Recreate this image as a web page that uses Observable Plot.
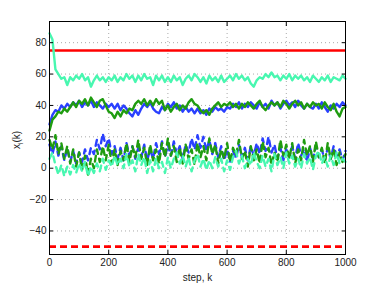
<!DOCTYPE html>
<html><head><meta charset="utf-8">
<script src="https://cdn.jsdelivr.net/npm/d3@7"></script>
<script src="https://cdn.jsdelivr.net/npm/@observablehq/plot@0.6"></script>
<style>body{margin:0;background:#fff}</style>
</head><body><div id="chart"></div>
<script>
const steps = d3.range(0, 1001, 10);
const xTicks = [0, 200, 400, 600, 800, 1000];
const yTicks = [-40, -20, 0, 20, 40, 60, 80];
const targets = [75, -50];

const aquaSolid = [86,82,63,60,57,58,53,58,56,59, 57,60,56,58,52,56,59,56,58,55, 58,56,59,55,58,56,60,57,59,55,
 59,56,60,57,58,53,59,56,59,55, 58,55,59,56,58,53,57,59,56,60, 58,55,58,54,59,56,58,55,59,55,
 57,59,56,60,57,59,56,58,54,52, 56,58,57,60,58,61,58,59,56,59, 57,60,56,59,57,59,56,58,55,59,
 57,55,58,56,59,55,58,57,56,59,57];
const blueSolid = [28,34,37,36,40,38,41,39,42,40, 43,39,42,40,43,39,42,40,38,41, 39,41,38,41,37,40,38,35,33,37,
 34,38,41,39,42,38,36,35,39,37, 41,39,42,38,40,36,39,36,38,35, 38,35,37,34,38,36,39,37,38,36,
 39,38,41,39,42,38,41,39,42,40, 38,42,39,41,38,43,40,42,38,41, 43,40,42,39,43,40,38,41,39,38,
 41,38,42,39,36,40,38,41,39,42,40];
const greenSolid = [24,31,33,36,35,38,36,39,42,39, 43,41,44,40,45,42,39,43,44,40, 36,35,32,36,33,37,35,38,37,41,
 43,41,44,40,43,40,44,41,43,37, 40,36,39,41,37,40,38,42,44,41, 40,37,35,37,34,38,40,42,39,41,
 40,42,39,41,38,41,39,42,40,38, 41,43,39,37,40,42,40,42,39,43, 41,38,41,43,40,42,38,41,39,42,
 40,41,38,42,39,37,41,36,33,38,39];
const blueDashed = [15,9,17,8,14,5,13,4,11,3, 10,4,12,5,13,9,18,12,22,14, 19,9,14,6,13,5,16,8,14,6,
 13,7,15,5,12,6,16,9,17,7, 15,8,17,9,14,6,15,10,19,12, 21,13,20,11,18,9,16,7,14,5,
 12,4,11,6,15,7,13,5,14,8, 16,9,19,11,20,10,15,6,13,5, 12,7,14,6,16,8,12,4,13,6,
 14,7,12,5,13,6,14,8,12,5,11];
const greenDashed = [18,12,21,9,16,6,14,3,12,1, 10,-1,8,-4,6,0,12,4,14,5, 15,3,12,2,11,5,16,4,14,7,
 18,6,13,2,15,5,12,3,16,7, 19,8,14,4,13,3,15,6,12,2, 16,7,14,5,19,9,15,3,12,6,
 16,4,13,8,18,6,11,1,14,5, 12,3,17,7,13,2,10,4,18,8, 15,6,16,3,12,5,18,8,14,4,
 17,7,13,3,16,6,12,2,10,4,9];
const aquaDashed = [6,10,2,-4,2,-5,1,-4,2,-3, 3,-2,4,-5,1,-3,3,-2,6,-1, 5,1,8,2,6,0,9,1,5,-2,
 9,2,7,-3,5,-2,6,0,4,-3, 7,0,6,10,3,8,1,7,-2,5, 9,1,6,-1,5,0,7,1,6,-2,
 5,-1,7,11,3,8,0,6,2,10, 4,0,8,1,6,-2,9,2,7,0, 10,3,8,1,6,0,9,3,7,-1,
 8,11,3,7,1,8,2,10,3,6,4];

const series = [
  {values: aquaSolid, color: "#48f7b0", dash: null},
  {values: blueSolid, color: "#2a40ff", dash: null},
  {values: greenSolid, color: "#1f9c10", dash: null},
  {values: blueDashed, color: "#2a40ff", dash: "6,5"},
  {values: greenDashed, color: "#1f9c10", dash: "6,5"},
  {values: aquaDashed, color: "#48f7b0", dash: "6,5"}
];

const toRows = vals => vals.map((v, i) => ({k: steps[i], v}));

const fontSize = 10;
const plot = Plot.plot({
  width: 382, height: 286,
  marginLeft: 49, marginRight: 37, marginTop: 21, marginBottom: 32,
  style: {fontFamily: "'Liberation Sans', Arial, sans-serif", fontSize: fontSize + "px", color: "#222", background: "#fff"},
  x: {domain: [0, 1000]},
  y: {domain: [-55, 93.5]},
  marks: [
    Plot.gridX(xTicks, {stroke: "#aaa", strokeOpacity: 1, strokeDasharray: "1,3"}),
    Plot.gridY(yTicks, {stroke: "#aaa", strokeOpacity: 1, strokeDasharray: "1,3"}),
    Plot.ruleY([targets[0]], {stroke: "#ff0000", strokeWidth: 2.6}),
    Plot.ruleY([targets[1]], {stroke: "#ff0000", strokeWidth: 2.6, strokeDasharray: "7,4"}),
    ...series.map(s => Plot.line(toRows(s.values), {x: "k", y: "v", stroke: s.color, strokeWidth: 2.4, strokeDasharray: s.dash, strokeLinejoin: "round"})),
    Plot.frame({stroke: "#000", strokeWidth: 1}),
    Plot.axisX(xTicks, {anchor: "bottom", tickSize: -4, tickPadding: 8, tickFormat: d => String(d), label: "step, k", labelAnchor: "center", labelArrow: "none", labelOffset: 26, stroke: "#000"}),
    Plot.axisX(xTicks, {anchor: "top", tickSize: -4, tickFormat: () => "", label: null, stroke: "#000"}),
    Plot.axisY(yTicks, {anchor: "left", tickSize: -4, tickPadding: 7, label: null, stroke: "#000"}),
    Plot.axisY(yTicks, {anchor: "right", tickSize: -4, tickFormat: () => "", label: null, stroke: "#000"})
  ]
});

const svg = d3.select(plot);
const t = svg.append("text")
  .attr("transform", "translate(20,140) rotate(-90)")
  .attr("text-anchor", "middle")
  .attr("fill", "#222")
  .style("font-size", fontSize + "px");
t.append("tspan").text("x");
t.append("tspan").attr("dy", 3).style("font-size", "7px").text("i");
t.append("tspan").attr("dy", -3).text("(k)");

document.getElementById("chart").appendChild(plot);
</script>
</body></html>
